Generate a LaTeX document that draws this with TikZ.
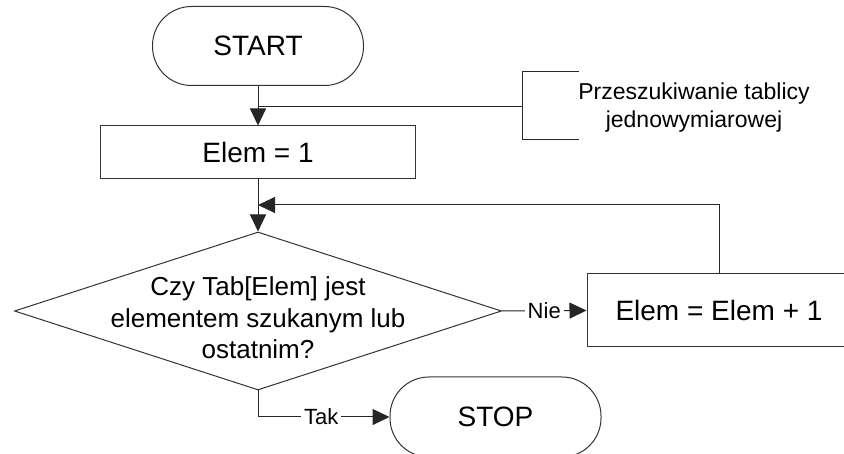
\documentclass[tikz,border=0pt]{standalone}
\usepackage{fontspec}
\setmainfont{Liberation Sans}
\usetikzlibrary{arrows.meta,shapes.geometric}
\begin{document}
\begin{tikzpicture}[x=1pt,y=-1pt,
  line/.style={draw=black!85, line width=1pt},
  arr/.style={line, -{Triangle[length=17pt,width=16pt]}},
  shp/.style={draw=black!80, line width=1pt, inner sep=0pt},
  term/.style={shp, rectangle, rounded corners=39pt, minimum width=211pt, minimum height=79pt, font=\fontsize{28}{32}\selectfont},
  proc/.style={shp, rectangle, font=\fontsize{28}{32}\selectfont},
  dec/.style={shp, diamond, aspect=3.08, minimum width=487pt, minimum height=158pt},
  lab/.style={fill=white, inner xsep=3pt, inner ysep=1pt, font=\fontsize{22}{25}\selectfont},
  txt/.style={align=center, inner sep=0pt}
]
\clip (0,0) rectangle (844,454);
\fill[white] (0,0) rectangle (844,454);

\node[term] (start) at (258,46) {START};
\node[proc, minimum width=315pt, minimum height=53pt] (init) at (258,152.5) {Elem = 1};
\node[dec] (cond) at (258,311) {};
\node[txt, font=\fontsize{26}{31.5}\selectfont] (condtxt) at (258,318) {Czy Tab[Elem] jest\\elementem szukanym lub\\ostatnim?};
\node[proc, minimum width=264pt, minimum height=73pt] (inc) at (719,310.5) {Elem = Elem + 1};
\node[term, minimum height=80pt] (stop) at (495.5,417) {STOP};

% annotation
\node[txt, font=\fontsize{23}{28}\selectfont] (note) at (694,108) {Przeszukiwanie tablicy\\jednowymiarowej};
\coordinate (j) at (258,107);
\coordinate (bk) at (522,107);
\coordinate (bt) at (522,72);
\coordinate (bb) at (522,140);
\coordinate (bte) at (579,72);
\coordinate (bbe) at (579,140);
\draw[line] (j) -- (bk);
\draw[line] (bte) -- (bt) -- (bb) -- (bbe);

% flow
\draw[arr] (start.south) -- (init.north);
\draw[arr] (init.south) -- (cond.north);
\coordinate (m) at (258,205);
\draw[arr] (inc.north) |- (m);
\draw[arr] (cond.east) -- node[lab] {Nie} (inc.west);
\draw[arr] (cond.south) |- node[lab, pos=0.74] {Tak} (stop.west);
\end{tikzpicture}
\end{document}
